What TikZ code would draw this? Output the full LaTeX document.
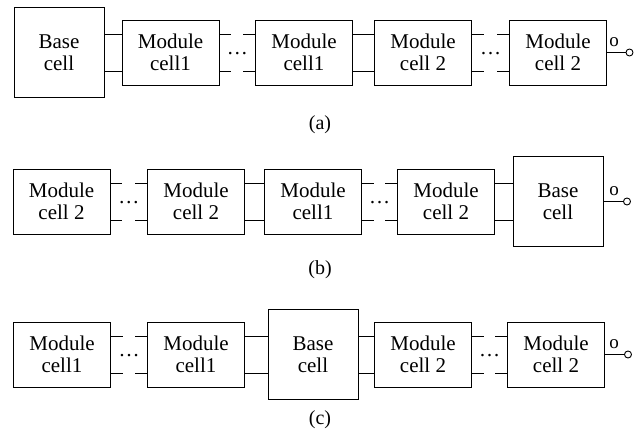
\documentclass[tikz,border=0pt]{standalone}
\usepackage{fontspec}
\setmainfont{Liberation Serif}
\usetikzlibrary{calc}
\tikzset{
  cellbox/.style={draw, line width=0.9pt, align=center, inner sep=0pt,
    font=\rmfamily\fontsize{21}{22}\selectfont},
  modbox/.style={cellbox, minimum width=97pt, minimum height=65pt},
  basebox/.style={cellbox, minimum width=90pt, minimum height=90pt},
  wire/.style={line width=0.9pt},
  dotsnode/.style={inner sep=0pt, font=\rmfamily\fontsize{21}{22}\selectfont},
  outcirc/.style={circle, draw, line width=0.9pt, inner sep=0pt, minimum size=7pt},
  outlabel/.style={inner sep=0pt, font=\rmfamily\fontsize{19}{20}\selectfont},
  caption/.style={inner sep=0pt, font=\rmfamily\fontsize{20}{22}\selectfont},
}
\newcommand{\solidlink}[2]{%
  \draw[wire] ($(#1.east)+(0,18.5)$) -- ($(#2.west)+(0,18.5)$);
  \draw[wire] ($(#1.east)+(0,-18.5)$) -- ($(#2.west)+(0,-18.5)$);}
\newcommand{\dashlink}[3]{%
  \draw[wire] ($(#1.east)+(0,18.5)$) -- ++(12,0);
  \draw[wire] ($(#1.east)+(0,-18.5)$) -- ++(12,0);
  \draw[wire] ($(#2.west)+(0,18.5)$) -- ++(-12,0);
  \draw[wire] ($(#2.west)+(0,-18.5)$) -- ++(-12,0);
  \node[dotsnode] (#3) at ($(#1.east)!0.5!(#2.west)+(0,-1)$) {…};}
\begin{document}
\begin{tikzpicture}[x=1pt,y=1pt]
\useasboundingbox (0,0) rectangle (641,441);
% ---------- (a) ----------
\node[basebox] (ab) at (59,388.5) {Base\\cell};
\node[modbox] (a1) at (170.5,388.5) {Module\\cell1};
\node[modbox] (a2) at (304,388.5) {Module\\cell1};
\node[modbox] (a3) at (423,388.5) {Module\\cell 2};
\node[modbox] (a4) at (558,388.5) {Module\\cell 2};
\solidlink{ab}{a1}
\dashlink{a1}{a2}{ad1}
\solidlink{a2}{a3}
\dashlink{a3}{a4}{ad2}
\node[outcirc] (ao) at (629.5,388.5) {};
\draw[wire] (a4.east) -- (ao.west);
\node[outlabel] (aol) at (614,399) {o};
\node[caption] (acap) at (320,316) {(a)};
% ---------- (b) ----------
\node[modbox] (b1) at (61.5,239.5) {Module\\cell 2};
\node[modbox] (b2) at (196,239.5) {Module\\cell 2};
\node[modbox] (b3) at (313,239.5) {Module\\cell1};
\node[modbox] (b4) at (446,239.5) {Module\\cell 2};
\node[basebox] (bb) at (558,239.5) {Base\\cell};
\dashlink{b1}{b2}{bd1}
\solidlink{b2}{b3}
\dashlink{b3}{b4}{bd2}
\solidlink{b4}{bb}
\node[outcirc] (bo) at (627,239.5) {};
\draw[wire] (bb.east) -- (bo.west);
\node[outlabel] (bol) at (614,250) {o};
\node[caption] (bcap) at (320,171) {(b)};
% ---------- (c) ----------
\node[modbox] (c1) at (62,86.5) {Module\\cell1};
\node[modbox] (c2) at (196,86.5) {Module\\cell1};
\node[basebox] (cb) at (313,86.5) {Base\\cell};
\node[modbox] (c3) at (423,86.5) {Module\\cell 2};
\node[modbox] (c4) at (556,86.5) {Module\\cell 2};
\dashlink{c1}{c2}{cd1}
\solidlink{c2}{cb}
\solidlink{cb}{c3}
\dashlink{c3}{c4}{cd2}
\node[outcirc] (co) at (628,86.5) {};
\draw[wire] (c4.east) -- (co.west);
\node[outlabel] (col) at (614,97) {o};
\node[caption] (ccap) at (320,21) {(c)};
\end{tikzpicture}
\end{document}
